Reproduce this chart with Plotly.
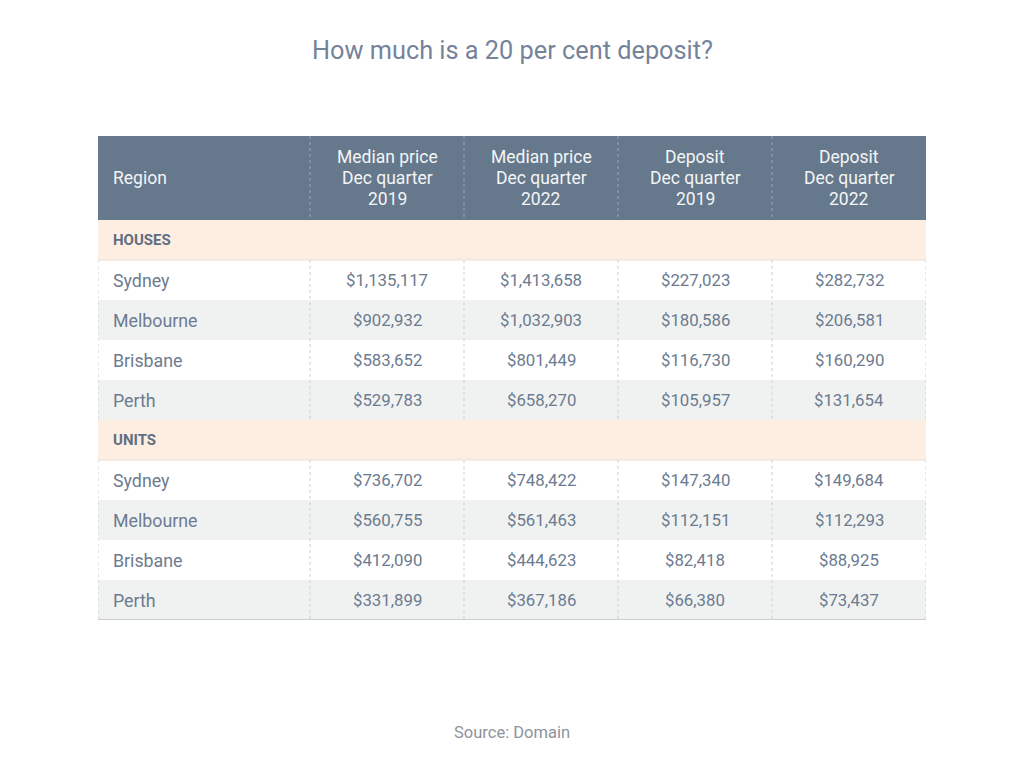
import plotly.graph_objects as go

# table content
sections = ["HOUSES", "UNITS"]
regions = ["Sydney", "Melbourne", "Brisbane", "Perth"]
headers = [["Region"],
           ["Median price", "Dec quarter", "2019"],
           ["Median price", "Dec quarter", "2022"],
           ["Deposit", "Dec quarter", "2019"],
           ["Deposit", "Dec quarter", "2022"]]

house_median_2019 = [1135117, 902932, 583652, 529783]
house_median_2022 = [1413658, 1032903, 801449, 658270]
house_deposit_2019 = [227023, 180586, 116730, 105957]
house_deposit_2022 = [282732, 206581, 160290, 131654]

unit_median_2019 = [736702, 560755, 412090, 331899]
unit_median_2022 = [748422, 561463, 444623, 367186]
unit_deposit_2019 = [147340, 112151, 82418, 66380]
unit_deposit_2022 = [149684, 112293, 88925, 73437]

# layout sizes (in table units)
col_w = [212, 154, 154, 154, 154]
head_h = 84
row_h = 40
line_gap = 21
pad = 12.5

HEAD_BG = "#66788b"
SECT_BG = "#fdeee1"
ALT_BG = "#f0f2f2"
TXT = "#6c7b8f"
FONT = "Roboto"

col_x = [0]
for w in col_w:
    col_x.append(col_x[-1] + w)
total_w = col_x[-1]

blocks = [
    (sections[0], [house_median_2019, house_median_2022, house_deposit_2019, house_deposit_2022]),
    (sections[1], [unit_median_2019, unit_median_2022, unit_deposit_2019, unit_deposit_2022]),
]

shapes = []
annotations = []

# header
shapes.append(dict(type="rect", xref="x", yref="y", x0=0, x1=total_w, y0=0, y1=head_h,
                   fillcolor=HEAD_BG, line_width=0, layer="below"))
for i, h in enumerate(headers):
    n = len(h)
    for k, part in enumerate(h):
        yy = head_h / 2 + (k - (n - 1) / 2) * line_gap
        if i == 0:
            annotations.append(dict(x=col_x[0] + pad, y=yy, text=part, showarrow=False,
                                    xanchor="left", yanchor="middle",
                                    font=dict(family=FONT, size=17.5, color="#f3f5f7")))
        else:
            annotations.append(dict(x=(col_x[i] + col_x[i + 1]) / 2, y=yy, text=part,
                                    showarrow=False, xanchor="center", yanchor="middle",
                                    font=dict(family=FONT, size=17.5, color="#f3f5f7")))
for xb in col_x[1:-1]:
    shapes.append(dict(type="line", xref="x", yref="y", x0=xb, x1=xb, y0=0, y1=head_h,
                       line=dict(color="#9aa6b3", width=1, dash="dot")))

y = head_h
for sect, cols in blocks:
    # section row
    shapes.append(dict(type="rect", xref="x", yref="y", x0=0, x1=total_w, y0=y, y1=y + row_h,
                       fillcolor=SECT_BG, line_width=0, layer="below"))
    shapes.append(dict(type="line", xref="x", yref="y", x0=0, x1=total_w, y0=y + row_h,
                       y1=y + row_h, line=dict(color="#eedfd2", width=1)))
    annotations.append(dict(x=pad, y=y + row_h / 2, text="<b>" + sect + "</b>", showarrow=False,
                            xanchor="left", yanchor="middle",
                            font=dict(family=FONT, size=15, color="#5f6f82")))
    y += row_h
    block_top = y
    for r, reg in enumerate(regions):
        bg = "white" if r % 2 == 0 else ALT_BG
        shapes.append(dict(type="rect", xref="x", yref="y", x0=0, x1=total_w, y0=y,
                           y1=y + row_h, fillcolor=bg, line_width=0, layer="below"))
        annotations.append(dict(x=pad, y=y + row_h / 2, text=reg, showarrow=False,
                                xanchor="left", yanchor="middle",
                                font=dict(family=FONT, size=17.8, color=TXT)))
        for c, vals in enumerate(cols):
            annotations.append(dict(x=(col_x[c + 1] + col_x[c + 2]) / 2, y=y + row_h / 2,
                                    text="${:,}".format(vals[r]), showarrow=False,
                                    xanchor="center", yanchor="middle",
                                    font=dict(family=FONT, size=16.8, color=TXT)))
        y += row_h
    for xb in col_x:
        shapes.append(dict(type="line", xref="x", yref="y", x0=xb, x1=xb, y0=block_top, y1=y,
                           line=dict(color="#ccd1d6", width=1, dash="dot")))

# bottom border
shapes.append(dict(type="line", xref="x", yref="y", x0=0, x1=total_w, y0=y, y1=y,
                   line=dict(color="#c9ced3", width=2)))

fig = go.Figure()
fig.add_trace(go.Scatter(x=[0, total_w], y=[0, y], mode="markers",
                         marker=dict(opacity=0), hoverinfo="skip", showlegend=False))

fig.update_layout(
    width=1024, height=768,
    margin=dict(l=90, r=106, t=128, b=156),
    paper_bgcolor="white", plot_bgcolor="white",
    xaxis=dict(range=[0, total_w], visible=False, fixedrange=True),
    yaxis=dict(range=[y, 0], visible=False, fixedrange=True),
    shapes=shapes,
    annotations=annotations + [
        dict(xref="paper", yref="paper", x=0.5, y=1, yshift=86, text="How much is a 20 per cent deposit?",
             showarrow=False, xanchor="center", yanchor="middle",
             font=dict(family=FONT, size=25.3, color="#75839a")),
        dict(xref="paper", yref="paper", x=0.5, y=0, yshift=-112, text="Source: Domain",
             showarrow=False, xanchor="center", yanchor="middle",
             font=dict(family=FONT, size=16.5, color="#8d939b")),
    ],
    showlegend=False,
)

fig.write_html("out.html")
